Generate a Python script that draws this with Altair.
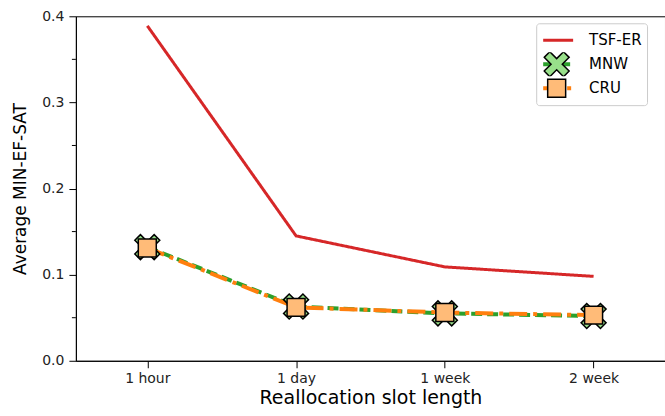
import altair as alt
import pandas as pd

categories = ["1 hour", "1 day", "1 week", "2 week"]
series_names = ["TSF-ER", "MNW", "CRU"]
tsf_er = [0.389, 0.145, 0.109, 0.098]
mnw = [0.132, 0.063, 0.055, 0.052]
cru = [0.131, 0.062, 0.056, 0.053]
y_ticks = [0.0, 0.1, 0.2, 0.3, 0.4]
minor_ticks = [0.05, 0.15, 0.25, 0.35]

line_colors = ["#d62728", "#2ca02c", "#ff7f0e"]
marker_fills = ["transparent", "#98df8a", "#ffbb78"]
marker_edges = ["transparent", "black", "black"]
X_PATH = "M-1,-0.55L-0.55,-1L0,-0.45L0.55,-1L1,-0.55L0.45,0L1,0.55L0.55,1L0,0.45L-0.55,1L-1,0.55L-0.45,0Z"
SQ_PATH = "M-0.72,-0.72H0.72V0.72H-0.72Z"

rows = []
for name, vals in zip(series_names, [tsf_er, mnw, cru]):
    for c, v in zip(categories, vals):
        rows.append({"slot": c, "value": v, "series": name, "marker": name})
df = pd.DataFrame(rows)
minor_df = pd.DataFrame({"minor": minor_ticks})

yscale = alt.Scale(domain=[0, 0.4], nice=False, zero=True)
y_axis = alt.Axis(values=y_ticks, format=".1f", title="Average MIN-EF-SAT",
                  titleFontSize=17, labelPadding=5, titlePadding=12, grid=False)
x_enc = alt.X("slot:N", sort=categories,
              scale=alt.Scale(type="point", padding=0.48),
              axis=alt.Axis(title="Reallocation slot length", labelAngle=0,
                            titleFontSize=19, labelPadding=4, titlePadding=3))
y_enc = alt.Y("value:Q", scale=yscale, axis=y_axis)

line_legend = alt.Legend(orient="none", legendX=461, legendY=7, title=None,
                         symbolType="stroke", symbolSize=900, labelFontSize=15,
                         labelOffset=14, padding=5, fillColor="white",
                         strokeColor="#cccccc", cornerRadius=3, clipHeight=24,
                         rowPadding=0, labelColor="black", labelFont="DejaVu Sans",
                         zindex=0)
marker_legend = alt.Legend(orient="none", legendX=468, legendY=12, title=None,
                           labelExpr="''", padding=0, clipHeight=24, rowPadding=0,
                           symbolSize=625, symbolStrokeWidth=1.5, symbolOpacity=1,
                           zindex=1)

lines = alt.Chart(df).mark_line().encode(
    x=x_enc, y=y_enc,
    color=alt.Color("series:N", sort="descending",
                    scale=alt.Scale(range=line_colors), legend=line_legend),
    strokeDash=alt.StrokeDash("series:N", sort="descending",
                              scale=alt.Scale(range=[[1, 0], [11, 5], [18, 6, 4, 6]]),
                              legend=line_legend),
    strokeWidth=alt.StrokeWidth("series:N", sort="descending",
                                scale=alt.Scale(type="ordinal", range=[3, 4, 4]),
                                legend=line_legend),
)

points = alt.Chart(df).mark_point(filled=True, size=625, opacity=1,
                                  strokeWidth=1.5).encode(
    x=x_enc, y=y_enc,
    fill=alt.Fill("marker:N", sort="descending",
                  scale=alt.Scale(range=marker_fills), legend=marker_legend),
    shape=alt.Shape("marker:N", sort="descending",
                    scale=alt.Scale(range=["M0,0", X_PATH, SQ_PATH]),
                    legend=marker_legend),
    stroke=alt.Stroke("marker:N", sort="descending",
                      scale=alt.Scale(range=marker_edges), legend=marker_legend),
)

minor = alt.Chart(minor_df).mark_rule(color="black", strokeWidth=1).encode(
    y=alt.Y("minor:Q", scale=yscale, axis=y_axis),
    x=alt.value(-4), x2=alt.value(0),
)

chart = alt.layer(lines, points, minor).properties(
    width=590, height=345,
    autosize=alt.AutoSizeParams(type="none"),
    padding={"left": 76, "top": 16, "right": 0, "bottom": 55},
).configure_view(stroke="black", strokeWidth=1).configure_axis(
    domainColor="black", tickColor="black", labelColor="#222222", titleColor="black",
    labelFont="DejaVu Sans", titleFont="DejaVu Sans", labelFontSize=14,
    titleFontWeight="normal", tickSize=7, tickWidth=1, domainWidth=1,
).configure_legend(symbolOpacity=1)

chart.save("out.html", embed_options={"renderer": "svg", "actions": False})
